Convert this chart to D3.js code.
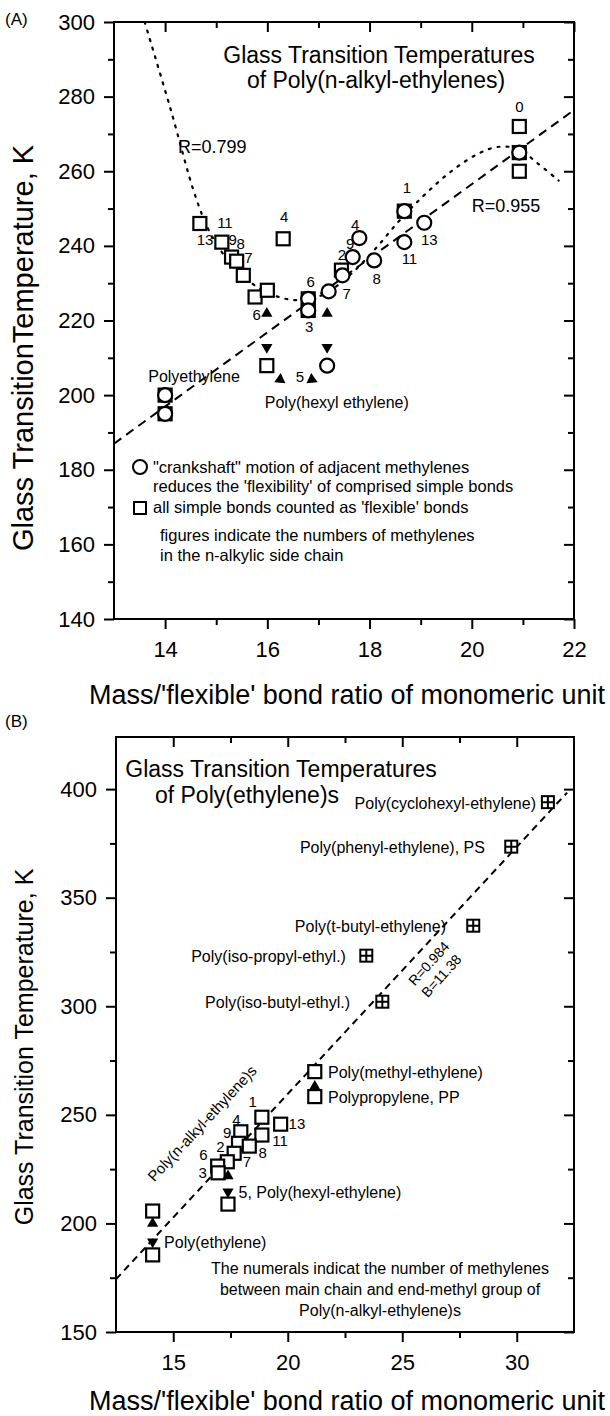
<!DOCTYPE html>
<html>
<head>
<meta charset="utf-8">
<script src="https://cdn.jsdelivr.net/npm/d3@7"></script>
<style>
  body { margin: 0; background: #fff; }
  svg { display: block; font-family: "Liberation Sans", Arial, sans-serif; }
</style>
</head>
<body>
<div id="chart"></div>
<script>
// ---------- panel A data ----------
const aXTicks = [14, 16, 18, 20, 22];
const aXMinor = [15, 17, 19, 21];
const aYTicks = [140, 160, 180, 200, 220, 240, 260, 280, 300];
const aYMinor = [150, 170, 190, 210, 230, 250, 270, 290];

// all simple bonds counted as 'flexible'
const aSquares = [
  [14.68, 246.0], [15.11, 241.0], [15.30, 237.0], [15.40, 235.9], [15.53, 232.1],
  [15.76, 226.3], [16.00, 228.1], [16.31, 241.9], [16.80, 225.8], [16.80, 222.7],
  [15.99, 207.9], [14.0, 200], [14.0, 195], [17.45, 233.5], [18.68, 249.3],
  [20.93, 272], [20.93, 265], [20.93, 260]
];
// "crankshaft" motion
const aCircles = [
  [19.07, 246.2], [18.68, 241.0], [18.09, 236.1], [17.80, 242.1], [17.67, 237.0],
  [17.47, 232.1], [17.20, 227.8], [16.80, 225.8], [16.80, 222.7], [17.17, 207.9],
  [18.68, 249.3], [20.93, 265], [14.0, 200], [14.0, 195]
];
const aNumLabels = [
  ['0', 20.93, 277.2], ['1', 18.73, 255.4], ['13', 19.17, 241.5], ['11', 18.78, 236.4],
  ['8', 18.14, 231.0], ['4', 17.72, 245.5], ['2', 17.46, 237.5], ['9', 17.62, 240.6],
  ['7', 17.55, 227.2], ['6', 16.85, 230.3], ['3', 16.82, 218.2], ['5', 16.64, 204.8],
  ['13', 14.78, 241.5], ['11', 15.17, 246.0], ['9', 15.32, 241.7], ['8', 15.48, 240.6],
  ['7', 15.63, 236.8], ['6', 15.79, 221.6], ['4', 16.33, 247.7]
];
const aArrowsUp = [[15.99, 221.9], [17.17, 221.9]];
const aArrowsDown = [[15.99, 212.8], [17.17, 212.8]];
const aArrowsIn = [[16.25, 204.2, 'right'], [16.87, 204.2, 'left']];
const aLinFit = [[13, 187.0], [22, 276.4]];           // R=0.955
const aPolyFit = [
  [13.6, 300], [14.1, 277], [14.6, 253], [14.9, 243], [15.3, 235], [15.8, 229],
  [16.3, 226], [16.7, 225.5], [17.1, 227], [17.6, 232], [18.1, 239], [18.6, 247],
  [19.1, 254], [19.6, 260], [20.1, 264.5], [20.5, 266.5], [20.9, 266], [21.3, 262],
  [21.7, 257.5]
];                                                     // R=0.799
const aFitNotes = [['R=0.799', 14.25, 266.4], ['R=0.955', 20.0, 250.6]];
const aNotes = [['Polyethylene', 13.67, 205.0], ['Poly(hexyl ethylene)', 15.95, 198.1]];
const aLegend = [
  '"crankshaft" motion of adjacent methylenes',
  "reduces the 'flexibility' of comprised simple bonds",
  "all simple bonds counted as 'flexible' bonds",
  'figures indicate the numbers of methylenes',
  'in the n-alkylic side chain'
];

// ---------- panel B data ----------
const bXTicks = [15, 20, 25, 30];
const bXMinor = [17.5, 22.5, 27.5];
const bYTicks = [150, 200, 250, 300, 350, 400];
const bYMinor = [175, 225, 275, 325, 375];

const bBranched = [
  [31.36, 394.0], [29.76, 373.5], [28.10, 337.1], [23.43, 323.3], [24.13, 302.1]
];
const bBranchedNames = [
  ['Poly(cyclohexyl-ethylene)', 30.84, 393.5], ['Poly(phenyl-ethylene), PS', 28.61, 373.5],
  ['Poly(t-butyl-ethylene)', 26.91, 337.1], ['Poly(iso-propyl-ethyl.)', 22.54, 323.3],
  ['Poly(iso-butyl-ethyl.)', 22.72, 302.1]
];
const bAlkyl = [
  [18.87, 248.9], [19.69, 245.7], [18.87, 240.7], [17.95, 242.2], [17.85, 236.9],
  [18.32, 235.6], [17.66, 232.3], [17.36, 228.4], [16.94, 226.4], [16.96, 223.3],
  [17.39, 208.9], [21.18, 269.9], [21.18, 258.4], [14.10, 205.7], [14.10, 185.5]
];
const bNumLabels = [
  ['1', 18.47, 256.0], ['13', 20.40, 245.7], ['11', 19.66, 238.0], ['4', 17.76, 247.6],
  ['9', 17.36, 241.5], ['8', 18.91, 232.6], ['2', 17.06, 235.0], ['7', 18.22, 228.4],
  ['6', 16.32, 231.5], ['3', 16.28, 223.3]
];
const bArrowsUp = [[17.39, 221.8], [21.18, 263.0], [14.10, 200.0]];
const bArrowsDown = [[17.39, 214.6], [14.10, 191.6]];
const bLinFit = [[12.5, 174.3], [32.2, 398.4]];         // R=0.984, B=11.38
const bNotes = [
  ['5, Poly(hexyl-ethylene)', 17.85, 214.6], ['Poly(methyl-ethylene)', 21.76, 269.9],
  ['Polypropylene, PP', 21.76, 258.4], ['Poly(ethylene)', 14.60, 191.6]
];
const bFootnote = [
  'The numerals indicat the number of methylenes',
  'between main chain and end-methyl group of',
  'Poly(n-alkyl-ethylene)s'
];

// ---------- drawing ----------
const svg = d3.select('#chart').append('svg')
  .attr('width', 610)
  .attr('height', 1416);

const fmt = d3.format('d');

function drawAxes(x, y, xMaj, xMin, yMaj, yMin) {
  const [l, r] = x.range();
  const [b, t] = y.range();
  const g = svg.append('g');
  const put = (axis, tx, ty) => g.append('g')
    .attr('transform', `translate(${tx},${ty})`)
    .call(axis);

  put(d3.axisLeft(y).tickValues(yMaj).tickSize(10).tickPadding(9).tickFormat(fmt), l, 0);
  put(d3.axisLeft(y).tickValues(yMin).tickSize(6).tickFormat(''), l, 0);
  put(d3.axisLeft(y).tickValues(yMaj).tickSize(10).tickFormat(''), r, 0);
  put(d3.axisLeft(y).tickValues(yMin).tickSize(6).tickFormat(''), r, 0);
  put(d3.axisBottom(x).tickValues(xMaj).tickSize(10).tickPadding(12).tickFormat(fmt), 0, b);
  put(d3.axisBottom(x).tickValues(xMin).tickSize(6).tickFormat(''), 0, b);
  put(d3.axisBottom(x).tickValues(xMaj).tickSize(10).tickFormat(''), 0, t);
  put(d3.axisBottom(x).tickValues(xMin).tickSize(6).tickFormat(''), 0, t);

  g.selectAll('.domain').remove();
  g.selectAll('line').attr('stroke', '#000').attr('stroke-width', 2);
  g.selectAll('text')
    .attr('fill', '#000')
    .style('font-size', '22px')
    .style('font-family', '"Liberation Sans", Arial, sans-serif');

  g.append('rect')
    .attr('x', l).attr('y', t)
    .attr('width', r - l).attr('height', b - t)
    .attr('fill', 'none')
    .attr('stroke', '#000')
    .attr('stroke-width', 2);
}

function text(str, px, py, size, anchor, rot) {
  return svg.append('text')
    .attr('transform', `translate(${px},${py})` + (rot ? ` rotate(${rot})` : ''))
    .attr('text-anchor', anchor || 'start')
    .attr('font-size', size)
    .attr('fill', '#000')
    .text(str);
}

function squares(g, data, x, y, s) {
  g.selectAll(null).data(data).join('rect')
    .attr('x', d => x(d[0]) - s / 2)
    .attr('y', d => y(d[1]) - s / 2)
    .attr('width', s).attr('height', s)
    .attr('fill', '#fff')
    .attr('stroke', '#000')
    .attr('stroke-width', 2.2);
}

function arrows(g, data, x, y, angle) {
  g.selectAll(null).data(data).join('path')
    .attr('d', d3.symbol(d3.symbolTriangle, 55))
    .attr('transform', d => {
      const a = d[2] === 'right' ? 125 : d[2] === 'left' ? -125 : angle;
      return `translate(${x(d[0])},${y(d[1])}) rotate(${a})`;
    })
    .attr('fill', '#000');
}

// ===== Panel A =====
const ax = d3.scaleLinear().domain([13, 22]).range([114, 574]);
const ay = d3.scaleLinear().domain([140, 300]).range([619, 22]);

svg.append('defs').append('clipPath').attr('id', 'clipA')
  .append('rect').attr('x', 114).attr('y', 22).attr('width', 460).attr('height', 597);

const ga = svg.append('g');
const gaLines = ga.append('g').attr('clip-path', 'url(#clipA)');
const line = d3.line();

gaLines.append('path')
  .attr('d', line(aLinFit.map(d => [ax(d[0]), ay(d[1])])))
  .attr('fill', 'none').attr('stroke', '#000')
  .attr('stroke-width', 2).attr('stroke-dasharray', '9,6');

gaLines.append('path')
  .attr('d', d3.line().x(d => ax(d[0])).y(d => ay(d[1])).curve(d3.curveCatmullRom)(aPolyFit))
  .attr('fill', 'none').attr('stroke', '#000')
  .attr('stroke-width', 2.2).attr('stroke-dasharray', '2,7').attr('stroke-linecap', 'round');

squares(ga, aSquares, ax, ay, 13);
ga.selectAll(null).data(aCircles).join('circle')
  .attr('cx', d => ax(d[0])).attr('cy', d => ay(d[1]))
  .attr('r', 7)
  .attr('fill', '#fff').attr('stroke', '#000').attr('stroke-width', 2.2);

arrows(ga, aArrowsUp, ax, ay, 0);
arrows(ga, aArrowsDown, ax, ay, 180);
arrows(ga, aArrowsIn, ax, ay, 0);

aNumLabels.forEach(d => text(d[0], ax(d[1]), ay(d[2]) + 5, 15, 'middle'));
aFitNotes.forEach(d => text(d[0], ax(d[1]), ay(d[2]) + 6, 18, 'start'));
aNotes.forEach(d => text(d[0], ax(d[1]), ay(d[2]) + 6, 16, 'start'));

drawAxes(ax, ay, aXTicks, aXMinor, aYTicks, aYMinor);

text('(A)', 5, 25, 17, 'start');
text('Glass Transition Temperatures', 379, 63, 23, 'middle');
text('of Poly(n-alkyl-ethylenes)', 376, 88, 23, 'middle');
text('Glass TransitionTemperature, K', 33, 348, 29, 'middle', -90);
text("Mass/'flexible' bond ratio of monomeric unit", 347, 704, 27, 'middle');

// legend A
const lg = svg.append('g');
lg.append('circle').attr('cx', 140).attr('cy', 467).attr('r', 7)
  .attr('fill', '#fff').attr('stroke', '#000').attr('stroke-width', 2);
lg.append('rect').attr('x', 134).attr('y', 502).attr('width', 12).attr('height', 12)
  .attr('fill', '#fff').attr('stroke', '#000').attr('stroke-width', 2);
[[153, 473], [153, 492], [153, 513], [160, 541], [160, 561]].forEach((p, i) =>
  text(aLegend[i], p[0], p[1], 16.5));

// ===== Panel B =====
const bx = d3.scaleLinear().domain([12.5, 32.5]).range([116, 574]);
const by = d3.scaleLinear().domain([150, 424]).range([1332, 737]);

const gb = svg.append('g');
gb.append('path')
  .attr('d', line(bLinFit.map(d => [bx(d[0]), by(d[1])])))
  .attr('fill', 'none').attr('stroke', '#000')
  .attr('stroke-width', 2).attr('stroke-dasharray', '7,5');

squares(gb, bAlkyl, bx, by, 13);

// crossed squares for branched side chains
const cs = gb.selectAll(null).data(bBranched).join('g')
  .attr('transform', d => `translate(${bx(d[0])},${by(d[1])})`);
cs.append('rect').attr('x', -6).attr('y', -6).attr('width', 12).attr('height', 12)
  .attr('fill', '#fff').attr('stroke', '#000').attr('stroke-width', 2);
cs.append('path').attr('d', 'M-6,0H6M0,-6V6').attr('stroke', '#000').attr('stroke-width', 2);

arrows(gb, bArrowsUp, bx, by, 0);
arrows(gb, bArrowsDown, bx, by, 180);

bBranchedNames.forEach(d => text(d[0], bx(d[1]), by(d[2]) + 6, 16, 'end'));
bNumLabels.forEach(d => text(d[0], bx(d[1]), by(d[2]) + 5, 15, 'middle'));
bNotes.forEach(d => text(d[0], bx(d[1]), by(d[2]) + 6, 16, 'start'));
bFootnote.forEach((s, i) => text(s, bx(24.03), 1274 + i * 21, 16, 'middle'));

text('R=0.984', bx(26.32), by(320.5) + 5, 14, 'middle', -48);
text('B=11.38', bx(26.87), by(314.8) + 5, 14, 'middle', -48);
text('Poly(n-alkyl-ethylene)s', bx(16.43), by(246.7) + 5, 15, 'middle', -47);

drawAxes(bx, by, bXTicks, bXMinor, bYTicks, bYMinor);

text('(B)', 5, 727, 17, 'start');
text('Glass Transition Temperatures', 281, 777, 23, 'middle');
text('of Poly(ethylene)s', 247, 803, 23, 'middle');
text('Glass Transition Temperature, K', 33, 1047, 25, 'middle', -90);
text("Mass/'flexible' bond ratio of monomeric unit", 347, 1410, 27, 'middle');
</script>
</body>
</html>
